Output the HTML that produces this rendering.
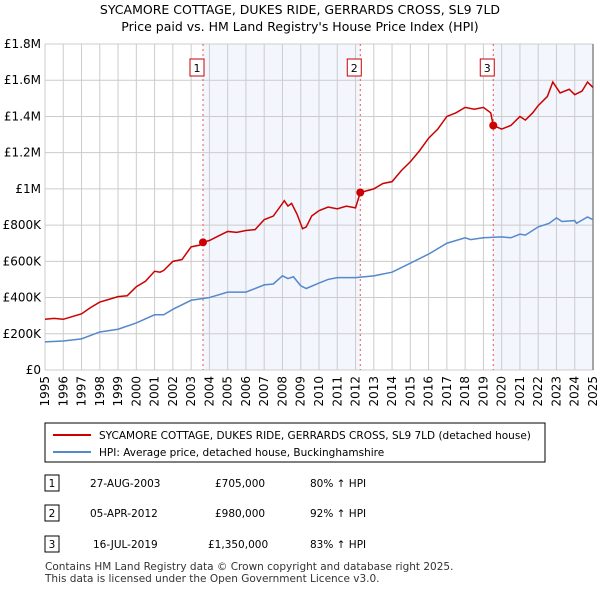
<!DOCTYPE html>
<html><head><meta charset="utf-8"><style>
body{margin:0;background:#fff;font-family:"Liberation Sans","DejaVu Sans",sans-serif;}
svg text{font-family:"DejaVu Sans","Liberation Sans",sans-serif;}
</style></head><body>
<svg id="c" width="600" height="590" xmlns="http://www.w3.org/2000/svg">
<text x="300" y="14" text-anchor="middle" font-size="12.5">SYCAMORE COTTAGE, DUKES RIDE, GERRARDS CROSS, SL9 7LD</text>
<text x="300" y="31" text-anchor="middle" font-size="12.5">Price paid vs. HM Land Registry's House Price Index (HPI)</text>
<g id="plot"></g>
<g>
<rect x="45" y="423" width="500" height="39" fill="#fff" stroke="#000" stroke-width="1"/>
<line x1="53" y1="435" x2="91" y2="435" stroke="#cc0000" stroke-width="2"/>
<text x="99" y="439" font-size="10.5">SYCAMORE COTTAGE, DUKES RIDE, GERRARDS CROSS, SL9 7LD (detached house)</text>
<line x1="53" y1="452" x2="91" y2="452" stroke="#5588cc" stroke-width="2"/>
<text x="99" y="456" font-size="10.5">HPI: Average price, detached house, Buckinghamshire</text>
</g>
<g font-size="10.5">
<rect x="45" y="475" width="14" height="16" fill="#fff" stroke="#000"/><text x="52" y="487" text-anchor="middle">1</text>
<text x="90" y="487">27-AUG-2003</text><text x="215" y="487">£705,000</text><text x="310" y="487">80% ↑ HPI</text>
<rect x="45" y="505" width="14" height="16" fill="#fff" stroke="#000"/><text x="52" y="517" text-anchor="middle">2</text>
<text x="90" y="517">05-APR-2012</text><text x="215" y="517">£980,000</text><text x="310" y="517">92% ↑ HPI</text>
<rect x="45" y="536" width="14" height="16" fill="#fff" stroke="#000"/><text x="52" y="548" text-anchor="middle">3</text>
<text x="93" y="548">16-JUL-2019</text><text x="208" y="548">£1,350,000</text><text x="310" y="548">83% ↑ HPI</text>
</g>
<text x="45" y="570" font-size="10.5" fill="#333">Contains HM Land Registry data © Crown copyright and database right 2025.</text>
<text x="45" y="582" font-size="10.5" fill="#333">This data is licensed under the Open Government Licence v3.0.</text>
</svg>
<script>
const yearTicks=[1995,1996,1997,1998,1999,2000,2001,2002,2003,2004,2005,2006,2007,2008,2009,2010,2011,2012,2013,2014,2015,2016,2017,2018,2019,2020,2021,2022,2023,2024,2025];
const yTickValues=[0,200000,400000,600000,800000,1000000,1200000,1400000,1600000,1800000];
const yTickLabels=["£0","£200K","£400K","£600K","£800K","£1M","£1.2M","£1.4M","£1.6M","£1.8M"];
const propT=[1995,1995.5,1996,1996.5,1997,1997.5,1998,1998.5,1999,1999.5,2000,2000.5,2001,2001.3,2001.5,2002,2002.5,2003,2003.5,2003.65,2004,2004.5,2005,2005.5,2006,2006.5,2007,2007.5,2008,2008.1,2008.3,2008.5,2008.8,2009.1,2009.3,2009.6,2010,2010.5,2011,2011.5,2012,2012.26,2013,2013.5,2014,2014.5,2015,2015.5,2016,2016.5,2017,2017.5,2018,2018.5,2019,2019.4,2019.54,2020,2020.5,2021,2021.3,2021.7,2022,2022.5,2022.8,2023.2,2023.7,2024,2024.4,2024.7,2025];
const propV=[280,285,280,295,310,345,375,390,405,410,460,490,545,540,550,600,610,680,690,705,715,740,765,760,770,775,830,850,920,935,905,920,860,780,790,850,880,900,890,905,895,980,1000,1030,1040,1100,1150,1210,1280,1330,1400,1420,1450,1440,1450,1420,1350,1330,1350,1400,1380,1420,1460,1510,1590,1530,1550,1520,1540,1590,1560];
const hpiT=[1995,1996,1997,1998,1999,2000,2001,2001.5,2002,2003,2003.65,2004,2005,2006,2007,2007.5,2008,2008.3,2008.6,2009,2009.3,2010,2010.5,2011,2012,2013,2014,2015,2016,2017,2018,2018.3,2019,2020,2020.5,2021,2021.3,2022,2022.6,2023,2023.3,2024,2024.1,2024.7,2025];
const hpiV=[155,160,172,210,225,260,305,305,335,385,395,400,430,430,470,475,520,505,515,465,450,480,500,510,510,520,540,590,640,700,730,720,730,735,730,750,745,790,810,840,820,825,810,845,830];
const saleT=[2003.65,2012.26,2019.54];
const saleV=[705,980,1350];
const saleLabels=["1","2","3"];
const X0=45,X1=593,Y0=370,Y1=44;
const xs=t=>X0+(t-1995)/30*(X1-X0);
const ys=v=>Y0-v/1800000*(Y0-Y1);
const NS="http://www.w3.org/2000/svg";
const g=document.getElementById('plot');
function mk(tag,attrs){const e=document.createElementNS(NS,tag);for(const k in attrs)e.setAttribute(k,attrs[k]);g.appendChild(e);return e;}
let s1=mk('rect',{x:xs(saleT[0]),y:Y1,width:xs(saleT[1])-xs(saleT[0]),height:Y0-Y1,fill:'#f3f6fd'});


let s2=mk('rect',{x:xs(saleT[2]),y:Y1,width:X1-xs(saleT[2]),height:Y0-Y1,fill:'#f3f6fd'});


yTickValues.forEach((v,i)=>{
 const l=mk('line',{x1:X0,x2:X1,y1:ys(v),y2:ys(v),stroke:'#ccc'});
 
 
 const t=mk('text',{x:X0-4,y:ys(v)+4,'text-anchor':'end','font-size':'12'});t.textContent=yTickLabels[i];
 
 
});
yearTicks.forEach(y=>{
 const l=mk('line',{x1:xs(y),x2:xs(y),y1:Y1,y2:Y0,stroke:'#ccc'});
 
 
 const t=mk('text',{transform:`translate(${xs(y)+4},${Y0+6}) rotate(-90)`,'text-anchor':'end','font-size':'12'});t.textContent=y;
 
 
});
const edge=mk('line',{x1:X1,x2:X1,y1:Y1,y2:Y0,stroke:'#888','stroke-width':1.5});


saleT.forEach((t,i)=>{
 const l=mk('line',{x1:xs(t),x2:xs(t),y1:Y1,y2:Y0,stroke:'#e55','stroke-dasharray':'2,3'});
 
 
 const r=mk('rect',{x:xs(t)-8-5,y:59,width:14,height:17,fill:'#fff',stroke:'#cc0000'});
 
 
 const tx=mk('text',{x:xs(t)-6,y:72,'text-anchor':'middle','font-size':'11'});tx.textContent=saleLabels[i];
 
 
});
const hp=mk('polyline',{points:hpiT.map((t,i)=>xs(t)+','+ys(hpiV[i]*1000)).join(' '),fill:'none',stroke:'#5588cc','stroke-width':1.5});


const pp=mk('polyline',{points:propT.map((t,i)=>xs(t)+','+ys(propV[i]*1000)).join(' '),fill:'none',stroke:'#cc0000','stroke-width':1.5});


saleT.forEach((t,i)=>{
 const c=mk('circle',{cx:xs(t),cy:ys(saleV[i]*1000),r:4,fill:'#cc0000'});
 
 
});
</script>
</body></html>
